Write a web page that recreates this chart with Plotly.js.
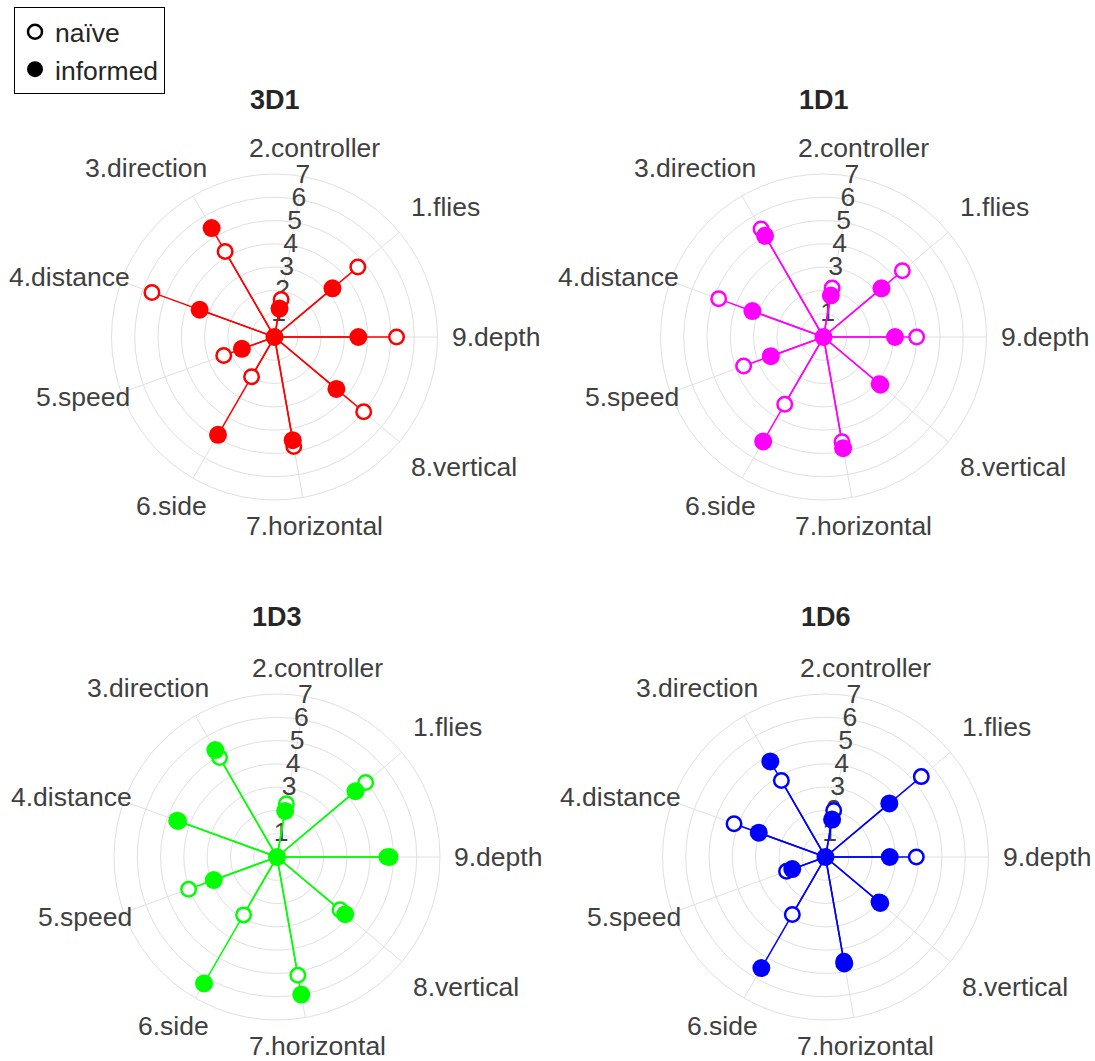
<!DOCTYPE html>
<html>
<head>
<meta charset="utf-8">
<script src="https://cdn.plot.ly/plotly-3.0.1.min.js"></script>
<style>html,body{margin:0;padding:0;background:#fff;}#chart{width:1095px;height:1061px;}</style>
</head>
<body>
<div id="chart"></div>
<script>
// Categories in angular order (counterclockwise from 0°)
const categories = ['9.depth','1.flies','2.controller','3.direction','4.distance','5.speed','6.side','7.horizontal','8.vertical'];
const radialTicks = [1,2,3,4,5,6,7];
const radialTickText = ['1','2','3','4','5','6','7'];
const radialLabelCategory = '2.controller';
const panelNames = ['3D1','1D1','1D3','1D6'];
const panelColors = ['#ff0000','#ff00ff','#00ff00','#0000ff'];
const legendNames = ['naïve','informed'];

const naive_3D1    = [5.24,4.67,1.64,4.24,5.60,2.32,1.97,4.77,5.00];
const informed_3D1 = [3.60,3.25,1.24,5.40,3.42,1.49,4.85,4.50,3.47];
const naive_1D1    = [4.00,4.42,2.14,5.36,4.79,3.65,3.33,4.57,3.12];
const informed_1D1 = [3.07,3.25,1.81,5.02,3.25,2.41,5.18,4.85,3.19];
const naive_1D3    = [4.72,4.97,2.32,4.93,4.50,4.04,2.87,5.16,3.53];
const informed_1D3 = [4.83,4.40,2.01,5.30,4.56,2.89,6.27,6.00,3.82];
const naive_1D6    = [3.90,5.37,2.03,3.79,4.18,1.78,2.85,4.55,3.00];
const informed_1D6 = [2.76,3.58,1.63,4.74,3.05,1.52,5.51,4.64,3.07];

const naiveSets = [naive_3D1, naive_1D1, naive_1D3, naive_1D6];
const informedSets = [informed_3D1, informed_1D1, informed_1D3, informed_1D6];

const FONT = 'Liberation Sans, Arial, Helvetica, sans-serif';
const FS = 26.5;
const W = 1095, H = 1061;
const R = 163;
const RMAX = 7;
const centers = [[274.5,337],[823.5,337],[277,857],[825.5,857]];
const titleY = [100, 100, 617, 617];

function stems(vals){
  const r = [], t = [];
  vals.forEach((v,i)=>{ r.push(0, v, null); t.push(categories[i], categories[i], null); });
  return {r, t};
}

const traces = [];
const layout = {
  width: W, height: H,
  margin: {l:0, r:0, t:0, b:0},
  paper_bgcolor: '#fff',
  font: {family: FONT, color: '#404040', size: FS},
  showlegend: true,
  legend: {
    x: 14/W, y: 1 - 7/H, xanchor: 'left', yanchor: 'top',
    bordercolor: '#000', borderwidth: 1, bgcolor: '#fff',
    font: {family: FONT, size: FS, color: '#262626'},
    itemwidth: 30
  },
  annotations: []
};

panelNames.forEach((name, k) => {
  const pid = k === 0 ? 'polar' : 'polar' + (k+1);
  const [cx, cy] = centers[k];
  layout[pid] = {
    domain: {x: [(cx-R)/W, (cx+R)/W], y: [1-(cy+R)/H, 1-(cy-R)/H]},
    bgcolor: 'rgba(0,0,0,0)',
    radialaxis: {
      range: [0, RMAX], tickvals: radialTicks, showticklabels: false,
      angle: 80, showline: false, ticks: '', gridcolor: '#e0e0e0', gridwidth: 1,
      layer: 'below traces'
    },
    angularaxis: {
      type: 'category', categoryorder: 'array', categoryarray: categories,
      direction: 'counterclockwise', rotation: 0,
      showline: true, linecolor: '#e0e0e0', linewidth: 1,
      gridcolor: '#e0e0e0', gridwidth: 1,
      ticks: '', showticklabels: false,
      layer: 'below traces'
    }
  };
  // panel title
  layout.annotations.push({
    text: '<b>' + name + '</b>', xref: 'paper', yref: 'paper',
    x: cx / W, y: 1 - titleY[k] / H, xanchor: 'center', yanchor: 'middle',
    showarrow: false, font: {family: FONT, size: 27, color: '#262626'}
  });
  // category labels around the circle
  const rho = 1.074 * R;
  categories.forEach((cat, i) => {
    const th = i * 2 * Math.PI / categories.length;
    const c = Math.cos(th), s = Math.sin(th);
    let xa = 'center', xs = 10;
    if (c > 0.3) { xa = 'left'; xs = 0; }
    else if (c < -0.3) { xa = 'right'; xs = 22; }
    let ya = 'middle';
    if (s > 0.5) ya = 'bottom'; else if (s < -0.5) ya = 'top';
    layout.annotations.push({
      text: cat, xref: 'paper', yref: 'paper',
      x: (cx + rho * c) / W, y: 1 - (cy - rho * s) / H,
      xanchor: xa, yanchor: ya, xshift: xs, showarrow: false,
      font: {family: FONT, size: FS, color: '#404040'}
    });
  });

  const col = panelColors[k];
  const ns = stems(naiveSets[k]);
  const is = stems(informedSets[k]);
  // radial tick labels (below data)
  traces.push({type:'scatterpolar', subplot: pid, mode:'text', r: radialTicks,
    theta: radialTicks.map(()=>radialLabelCategory), text: radialTickText,
    textposition: 'middle center', textfont:{family: FONT, size: FS, color:'#404040'},
    cliponaxis:false, showlegend:false, hoverinfo:'skip'});
  traces.push({type:'scatterpolar', subplot: pid, mode:'lines', r: ns.r, theta: ns.t,
    line:{color:col, width:1.5}, connectgaps:false, showlegend:false, hoverinfo:'skip'});
  traces.push({type:'scatterpolar', subplot: pid, mode:'lines', r: is.r, theta: is.t,
    line:{color:col, width:1.5}, connectgaps:false, showlegend:false, hoverinfo:'skip'});
  traces.push({type:'scatterpolar', subplot: pid, mode:'markers', r: [0], theta: [categories[0]],
    marker:{color:col, size:18}, showlegend:false, cliponaxis:false});
  traces.push({type:'scatterpolar', subplot: pid, mode:'markers', r: naiveSets[k], theta: categories,
    marker:{color:'#fff', size:14.5, line:{color:col, width:2.5}}, showlegend:false, cliponaxis:false});
  traces.push({type:'scatterpolar', subplot: pid, mode:'markers', r: informedSets[k], theta: categories,
    marker:{color:col, size:18}, showlegend:false, cliponaxis:false});
});

// legend entries
traces.push({type:'scatterpolar', subplot:'polar', mode:'markers', r:[null], theta:[null], name: legendNames[0],
  marker:{color:'#fff', size:14, line:{color:'#000', width:2.5}}, showlegend:true});
traces.push({type:'scatterpolar', subplot:'polar', mode:'markers', r:[null], theta:[null], name: legendNames[1],
  marker:{color:'#000', size:17}, showlegend:true});

Plotly.newPlot('chart', traces, layout, {displayModeBar:false, staticPlot:true});
</script>
</body>
</html>
